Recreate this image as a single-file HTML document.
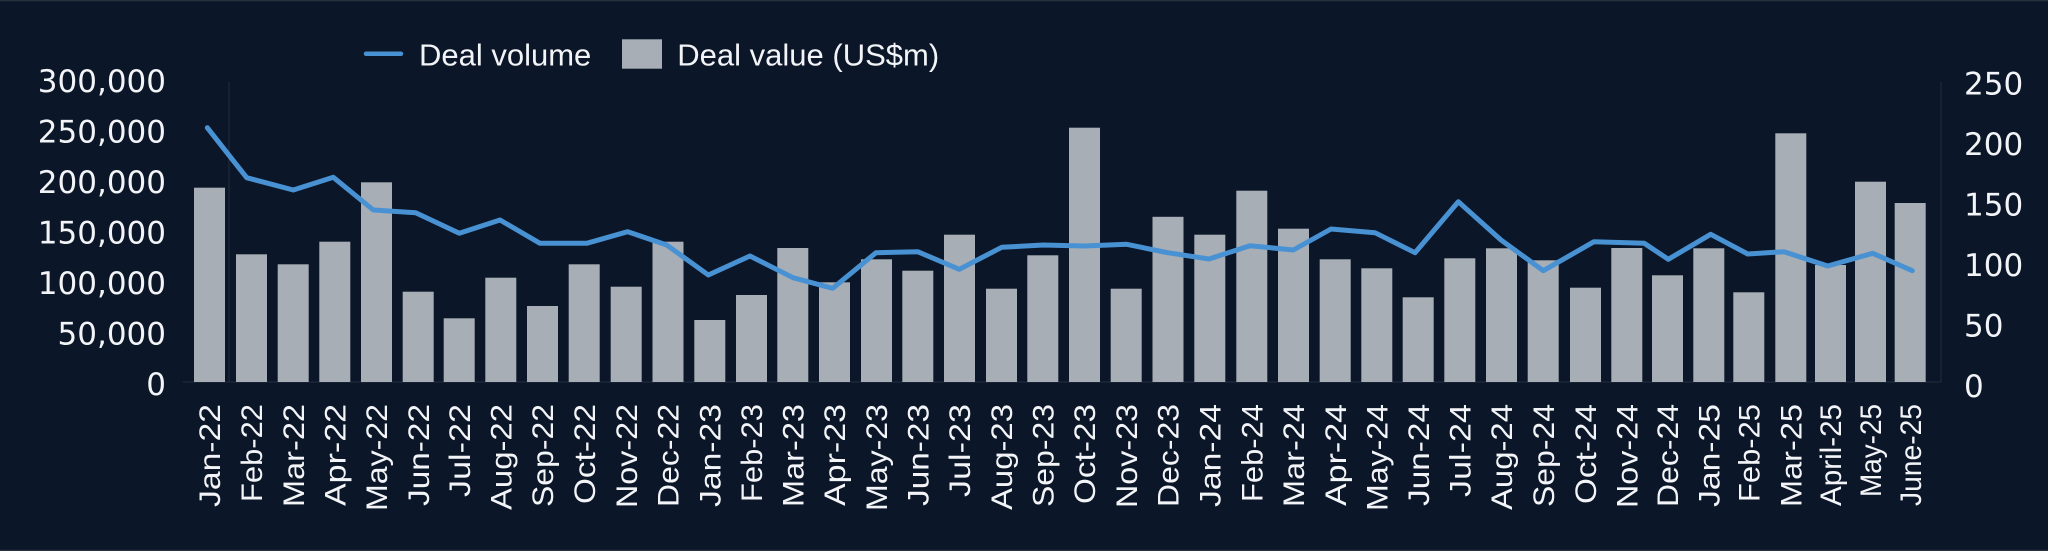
<!DOCTYPE html>
<html>
<head>
<meta charset="utf-8">
<style>
  html, body { margin:0; padding:0; background:#0b1628; }
  body { width:2048px; height:551px; overflow:hidden; }
  svg { display:block; }
  .ax { font-family: "DejaVu Sans", "Liberation Sans", sans-serif; font-size:31px; fill:#f2f4f7; }
  .lg { font-family: "Liberation Sans", sans-serif; font-size:31px; fill:#f2f4f7; }
  .xl { font-family: "Liberation Sans", sans-serif; font-size:30px; fill:#f2f4f7; }
</style>
</head>
<body>
<svg id="c" width="2048" height="551" viewBox="0 0 2048 551" xmlns="http://www.w3.org/2000/svg">
  <rect x="0" y="0" width="2048" height="551" fill="#0b1628"/>
  <line x1="0" y1="0.5" x2="2048" y2="0.5" stroke="#27323f" stroke-width="1.5"/>
  <line x1="0" y1="550.5" x2="2048" y2="550.5" stroke="#27323f" stroke-width="1.5"/>

  <!-- axis lines -->
  <line x1="229" y1="82" x2="229" y2="382" stroke="#1f2b3b" stroke-width="1.2"/>
  <line x1="1941" y1="82" x2="1941" y2="382" stroke="#1f2b3b" stroke-width="1.2"/>
  <line x1="183" y1="382" x2="1941" y2="382" stroke="#1f2b3b" stroke-width="1.2"/>

  <!-- left axis labels -->
  <g class="ax" text-anchor="end">
    <text x="166" y="92">300,000</text>
    <text x="166" y="142.5">250,000</text>
    <text x="166" y="193">200,000</text>
    <text x="166" y="243.5">150,000</text>
    <text x="166" y="294">100,000</text>
    <text x="166" y="344.5">50,000</text>
    <text x="166" y="395">0</text>
  </g>
  <!-- right axis labels -->
  <g class="ax" text-anchor="start">
    <text x="1964" y="94.5">250</text>
    <text x="1964" y="155">200</text>
    <text x="1964" y="215.5">150</text>
    <text x="1964" y="276">100</text>
    <text x="1964" y="336.5">50</text>
    <text x="1964" y="397">0</text>
  </g>

  <!-- legend -->
  <line x1="366" y1="53.8" x2="401" y2="53.8" stroke="#4892d4" stroke-width="4.5" stroke-linecap="round"/>
  <text class="lg" x="419" y="65.7">Deal volume</text>
  <rect x="622" y="39.3" width="40" height="29.4" fill="#a8aeb5"/>
  <text class="lg" x="677.3" y="65.7">Deal value (US$m)</text>

  <g id="bars" fill="#a8aeb5"></g>
  <polyline id="ln" fill="none" stroke="#4892d4" stroke-width="5" stroke-linejoin="round" stroke-linecap="round" points=""/>
  <g id="xl" class="xl"></g>
</svg>
<script>
(function(){
  var NS="http://www.w3.org/2000/svg";
  var bars=[[194,187.7],[236,254.3],[277.7,264.3],[319.3,241.7],[361,182.3],[402.7,291.7],[443.7,318.3],[485.3,277.7],[527,306],[568.7,264.3],[610.7,286.7],[652.5,241.7],[694.3,320],[736,295],[777.3,248],[819,282.3],[861,259.3],[902.3,270.7],[944,234.7],[986,288.7],[1027.3,255.3],[1069,127.7],[1110.7,288.7],[1152.5,216.8],[1194.3,234.7],[1236.3,190.7],[1278,228.7],[1319.7,259.3],[1361.3,268.3],[1402.7,297.3],[1444.3,258.3],[1486,248.3],[1527.7,260.3],[1570,287.7],[1611.3,248],[1652,275.3],[1693.3,248.3],[1733.3,292.3],[1775.3,133.3],[1815,265],[1855,181.7],[1894.7,203]];
  var g=document.getElementById("bars");
  bars.forEach(function(b){
    var r=document.createElementNS(NS,"rect");
    r.setAttribute("x",b[0]);r.setAttribute("y",b[1]);
    r.setAttribute("width",31);r.setAttribute("height",(382-b[1]).toFixed(1));
    g.appendChild(r);
  });
  var pts=[[207.3,127.7],[246.7,177.7],[293.3,190],[333.3,177.3],[373.3,210],[415.7,212.7],[459.3,233.3],[500,220],[540,243.3],[586.7,243.3],[627.7,231.7],[666.7,245],[708.3,275],[750,256],[793,277.7],[832.7,288.3],[876,252.7],[917.7,251.7],[959.3,269.3],[1001.7,247.3],[1043.3,245],[1084.3,246],[1126.7,244.3],[1167.7,252.7],[1209,259],[1250,245.7],[1293.3,250],[1331,229],[1375,232.7],[1415,252.7],[1458.3,201.7],[1501,240],[1543.3,270.7],[1594,241.7],[1644.3,243.3],[1668.3,259.3],[1710.7,234.3],[1747.7,254],[1784,251.7],[1827.7,266],[1872.7,253.3],[1912.3,270.7]];
  document.getElementById("ln").setAttribute("points",pts.map(function(p){return p[0]+","+p[1];}).join(" "));
  var mon=["Jan","Feb","Mar","Apr","May","Jun","Jul","Aug","Sep","Oct","Nov","Dec"];
  var len={Jan:103,Feb:98,Mar:103,Apr:102,May:107,Jun:102,Jul:93,Aug:106,Sep:103,Oct:100,Nov:104,Dec:103};
  var labels=[];
  ["22","23","24"].forEach(function(y){mon.forEach(function(m){labels.push([m+"-"+y,len[m]]);});});
  labels.push(["Jan-25",103],["Feb-25",98],["Mar-25",103],["April-25",102],["May-25",93],["June-25",102]);
  var xg=document.getElementById("xl");
  labels.forEach(function(l,i){
    var c=bars[i][0]+15.5;
    var t=document.createElementNS(NS,"text");
    t.setAttribute("transform","translate("+(c+10.7).toFixed(1)+",404) rotate(-90)");
    t.setAttribute("text-anchor","end");
    t.setAttribute("textLength",l[1]);
    t.setAttribute("lengthAdjust","spacingAndGlyphs");
    t.textContent=l[0];
    xg.appendChild(t);
  });
})();
</script>
</body>
</html>
